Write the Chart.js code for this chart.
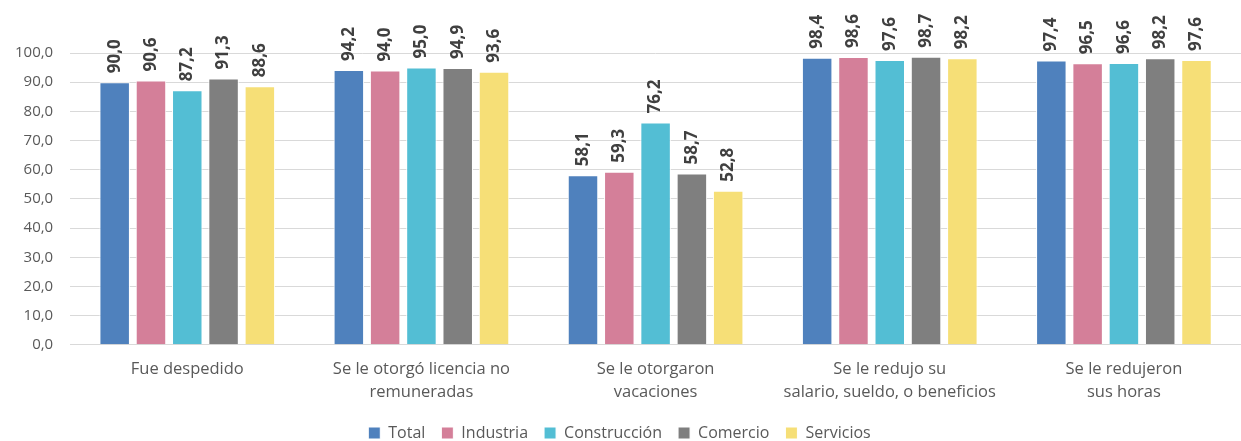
<!DOCTYPE html>
<html>
<head>
<meta charset="utf-8">
<script src="https://cdn.jsdelivr.net/npm/chart.js@4/dist/chart.umd.min.js"></script>
<style>
  html, body { margin: 0; padding: 0; background: #fff; }
  #wrap { width: 1241px; height: 441px; }
</style>
</head>
<body>
<div id="wrap"><canvas id="mycanvas"></canvas></div>
<script>
var categories = [
  'Fue despedido',
  ['Se le otorgó licencia no', 'remuneradas'],
  ['Se le otorgaron', 'vacaciones'],
  ['Se le redujo su', 'salario, sueldo, o beneficios'],
  ['Se le redujeron', 'sus horas']
];
var total        = [90.0, 94.2, 58.1, 98.4, 97.4];
var industria    = [90.6, 94.0, 59.3, 98.6, 96.5];
var construccion = [87.2, 95.0, 76.2, 97.6, 96.6];
var comercio     = [91.3, 94.9, 58.7, 98.7, 98.2];
var servicios    = [88.6, 93.6, 52.8, 98.2, 97.6];
var yTicks = [0, 10, 20, 30, 40, 50, 60, 70, 80, 90, 100];

function fmt(v) {
  return v.toFixed(1).replace('.', ',');
}

// rotated value labels above each bar
var valueLabels = {
  id: 'valueLabels',
  afterDatasetsDraw: function(chart) {
    var ctx = chart.ctx;
    ctx.save();
    ctx.font = 'bold 17px "Open Sans", sans-serif';
    ctx.fillStyle = '#404040';
    ctx.textAlign = 'left';
    ctx.textBaseline = 'middle';
    chart.data.datasets.forEach(function(ds, i) {
      chart.getDatasetMeta(i).data.forEach(function(bar, j) {
        ctx.save();
        ctx.translate(bar.x, bar.y - 9);
        ctx.rotate(-Math.PI / 2);
        ctx.fillText(fmt(ds.data[j]), 0, 0);
        ctx.restore();
      });
    });
    ctx.restore();
  }
};

// keep the wide legend spacing but pull the row up closer to the axis labels
var legendTweak = {
  id: 'legendTweak',
  beforeInit: function(chart) {
    var fit = chart.legend.fit;
    chart.legend.fit = function() {
      fit.call(this);
      this.height -= 8;
    };
  },
  afterLayout: function(chart) {
    chart.legend.top -= 8;
    chart.legend.bottom -= 8;
  }
};

function mkSet(label, data, color) {
  return {
    label: label,
    data: data,
    backgroundColor: color,
    borderColor: '#ffffff',
    borderWidth: 1
  };
}

var chartdata = {
  labels: categories,
  datasets: [
    mkSet('Total', total, '#4F81BD'),
    mkSet('Industria', industria, '#D47F99'),
    mkSet('Construcción', construccion, '#53BED4'),
    mkSet('Comercio', comercio, '#7F7F7F'),
    mkSet('Servicios', servicios, '#F6DF77')
  ]
};

var ctx = document.getElementById('mycanvas');
var barGraph = new Chart(ctx, {
  type: 'bar',
  data: chartdata,
  plugins: [valueLabels, legendTweak],
  options: {
    responsive: true,
    maintainAspectRatio: false,
    animation: false,
    layout: { padding: { top: 53, right: 0, left: -2, bottom: -10 } },
    datasets: {
      bar: { categoryPercentage: 0.775, barPercentage: 0.84 }
    },
    plugins: {
      legend: {
        position: 'bottom',
        labels: {
          boxWidth: 12,
          boxHeight: 12,
          padding: 16,
          color: '#595959',
          font: { family: '"Open Sans", sans-serif', size: 16 }
        }
      },
      tooltip: { enabled: false }
    },
    scales: {
      x: {
        grid: { display: false, drawTicks: false },
        border: { color: '#d9d9d9' },
        ticks: {
          color: '#595959',
          padding: 13,
          maxRotation: 0,
          autoSkip: false,
          font: { family: '"Open Sans", sans-serif', size: 16.5, lineHeight: 1.4 }
        }
      },
      y: {
        min: 0,
        max: 100,
        afterBuildTicks: function(axis) {
          axis.ticks = yTicks.map(function(v) { return { value: v }; });
        },
        grid: { color: '#d9d9d9', drawTicks: false },
        border: { display: false },
        ticks: {
          color: '#595959',
          padding: 17,
          font: { family: '"Open Sans", sans-serif', size: 15 },
          callback: function(v) { return fmt(v); }
        }
      }
    }
  }
});
</script>
</body>
</html>
